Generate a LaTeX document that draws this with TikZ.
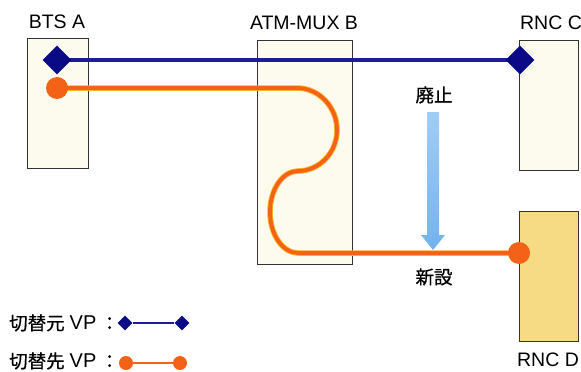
\documentclass[tikz,border=0pt]{standalone}
\usepackage{fontspec}
\setmainfont{Liberation Sans}
\newfontfamily\jpfont[UprightFeatures={FakeBold=0.7}]{Noto Sans CJK JP}
\usetikzlibrary{shapes.geometric}
\definecolor{vpblue}{RGB}{28,28,150}
\definecolor{diablue}{RGB}{10,10,135}
\definecolor{vporange}{RGB}{243,98,22}
\definecolor{glow}{RGB}{255,176,40}
\definecolor{cream}{RGB}{253,251,238}
\definecolor{rncyellow}{RGB}{247,218,132}
\definecolor{boxline}{RGB}{50,50,50}
\definecolor{arrtop}{RGB}{160,205,246}
\definecolor{arrbot}{RGB}{115,178,238}
\tikzset{
  devbox/.style={draw=boxline, line width=0.9pt, fill=cream, inner sep=0pt},
  devlabel/.style={font=\fontsize{19.5}{22}\selectfont, inner sep=0pt},
  jplabel/.style={font=\jpfont\fontsize{18.5}{22}\selectfont, inner sep=0pt},
  legendtext/.style={font=\fontsize{20}{22}\selectfont, inner sep=0pt, anchor=west},
  bigdia/.style={diamond, fill=diablue, inner sep=0pt, minimum width=29pt, minimum height=29pt},
  bigdot/.style={circle, fill=vporange, inner sep=0pt, minimum size=22pt},
  smalldia/.style={diamond, fill=diablue, inner sep=0pt, minimum width=15pt, minimum height=15pt},
  smalldot/.style={circle, fill=vporange, inner sep=0pt, minimum size=14pt},
  blueline/.style={draw=vpblue, line width=4.5pt},
  orangeglow/.style={draw=glow, line width=5.5pt, line cap=round},
  orangeline/.style={draw=vporange, line width=3.8pt, line cap=round},
}
\begin{document}
\begin{tikzpicture}[x=1pt, y=-1pt]
\useasboundingbox (0,0) rectangle (581,372);
% boxes
\node[devbox, minimum width=61pt, minimum height=130pt] (bts) at (57.5,103) {};
\node[devbox, minimum width=95pt, minimum height=224pt] (mux) at (304.5,152) {};
\node[devbox, minimum width=59pt, minimum height=130pt] (rncc) at (548.5,105) {};
\node[devbox, fill=rncyellow, minimum width=59pt, minimum height=130pt] (rncd) at (548.5,276) {};
% labels
\node[devlabel] (lbts) at (57,22) {BTS A};
\node[devlabel] (lmux) at (304,23) {ATM-MUX B};
\node[devlabel] (lrncc) at (551,23) {RNC C};
\node[devlabel] (lrncd) at (548,360) {RNC D};
% arrow
\shade[top color=arrtop, bottom color=arrbot]
  (427,112) -- (439,112) -- (439,235) -- (445,235) -- (433,250) -- (421,235) -- (427,235) -- cycle;
\node[jplabel] (haishi) at (434,95) {廃止};
\node[jplabel] (shinsetsu) at (434,277) {新設};
% coordinates of the orange path
\coordinate (o0) at (57,88);
\coordinate (o1) at (297,88);
\coordinate (o2) at (337,130);
\coordinate (o3) at (298,171);
\coordinate (o4) at (270,212);
\coordinate (o5) at (298,253);
\coordinate (o6) at (519,253);
% orange VP
\draw[orangeglow] (o0) -- (o1) .. controls (319,88) and (337,107) .. (o2)
  .. controls (337,153) and (319,171) .. (o3)
  .. controls (283,171) and (270,189) .. (o4)
  .. controls (270,235) and (283,253) .. (o5) -- (o6);
\draw[orangeline] (o0) -- (o1) .. controls (319,88) and (337,107) .. (o2)
  .. controls (337,153) and (319,171) .. (o3)
  .. controls (283,171) and (270,189) .. (o4)
  .. controls (270,235) and (283,253) .. (o5) -- (o6);
\node[bigdot] (da) at (o0) {};
\node[bigdot] (dd) at (o6) {};
% blue VP
\coordinate (ba) at (57,60);
\coordinate (bc) at (520,60);
\draw[blueline] (ba) -- (bc);
\node[bigdia] (diaa) at (ba) {};
\node[bigdia] (diac) at (bc) {};
% legend
\node[legendtext] (leg1) at (9,323) {{\jpfont\fontsize{18.5}{22}\selectfont 切替元}\kern5pt VP\kern4pt{\jpfont\fontsize{18.5}{22}\selectfont ：}};
\node[legendtext] (leg2) at (9,361) {{\jpfont\fontsize{18.5}{22}\selectfont 切替先}\kern5pt VP\kern4pt{\jpfont\fontsize{18.5}{22}\selectfont ：}};
\node[smalldia] (l1a) at (125,323) {};
\node[smalldia] (l1b) at (182,323) {};
\draw[draw=vpblue, line width=2.2pt] (l1a) -- (l1b);
\node[smalldot] (l2a) at (126,363) {};
\node[smalldot] (l2b) at (180,363) {};
\draw[draw=vporange, line width=2.2pt] (l2a) -- (l2b);
\end{tikzpicture}
\end{document}
